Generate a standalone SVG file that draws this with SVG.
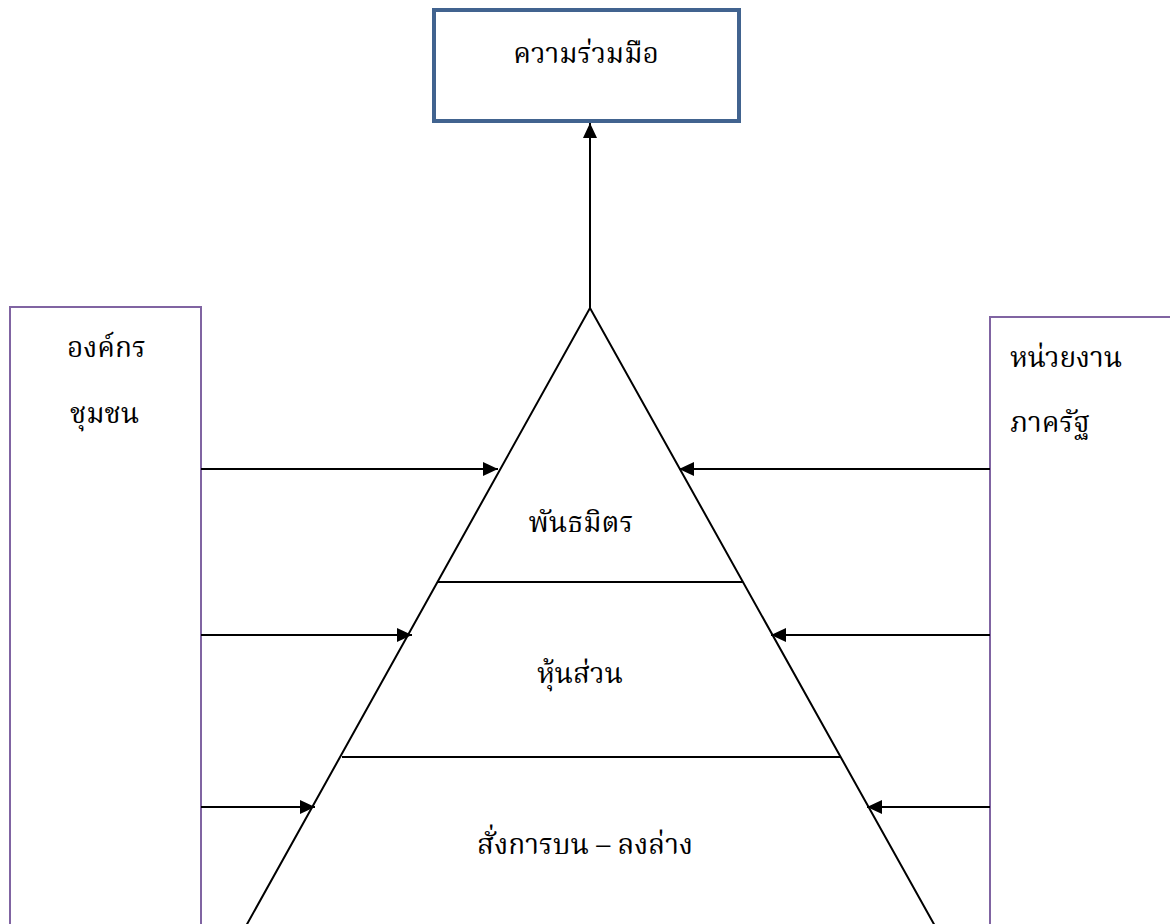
<svg xmlns="http://www.w3.org/2000/svg" width="1170" height="924" viewBox="0 0 1170 924">
<style>
text{font-family:"Noto Serif Thai","Noto Sans Thai","Liberation Serif","DejaVu Serif",serif;font-size:28px;fill:#000}
.ln{stroke:#000;stroke-width:2;fill:none}
.side{fill:#fff;stroke:#8064a2;stroke-width:2}
</style>
<defs>
<marker id="ah" markerWidth="15" markerHeight="14" refX="15" refY="7" orient="auto" markerUnits="userSpaceOnUse">
<path d="M0,0 L15,7 L0,14 Z" fill="#000"/>
</marker>
</defs>
<rect width="1170" height="924" fill="#fff"/>
<g id="left-box">
<rect class="side" x="10" y="307" width="191" height="640"/>
<text x="67" y="357">องค์กร</text>
<text x="70" y="423">ชุมชน</text>
</g>
<g id="right-box">
<rect class="side" x="990" y="317" width="200" height="640"/>
<text x="1010" y="367">หน่วยงาน</text>
<text x="1010" y="432">ภาครัฐ</text>
</g>
<g id="top-box">
<rect x="434" y="10" width="305" height="111" fill="#fff" stroke="#41638f" stroke-width="4"/>
<text x="586" y="63" text-anchor="middle">ความร่วมมือ</text>
</g>
<g id="pyramid">
<polyline class="ln" points="246,926 590,308 935,926"/>
<line class="ln" x1="437" y1="582" x2="743" y2="582"/>
<line class="ln" x1="342" y1="757" x2="841" y2="757"/>
<text x="581" y="532" text-anchor="middle">พันธมิตร</text>
<text x="580" y="683" text-anchor="middle">หุ้นส่วน</text>
<text x="585" y="854" text-anchor="middle">สั่งการบน – ลงล่าง</text>
</g>
<g id="connectors">
<line class="ln" x1="590" y1="308" x2="590" y2="123" marker-end="url(#ah)"/>
<line class="ln" x1="201" y1="469" x2="498" y2="469" marker-end="url(#ah)"/>
<line class="ln" x1="201" y1="635" x2="412" y2="635" marker-end="url(#ah)"/>
<line class="ln" x1="201" y1="807" x2="315" y2="807" marker-end="url(#ah)"/>
<line class="ln" x1="990" y1="469" x2="679" y2="469" marker-end="url(#ah)"/>
<line class="ln" x1="990" y1="635" x2="771" y2="635" marker-end="url(#ah)"/>
<line class="ln" x1="990" y1="807" x2="867" y2="807" marker-end="url(#ah)"/>
</g>
</svg>
